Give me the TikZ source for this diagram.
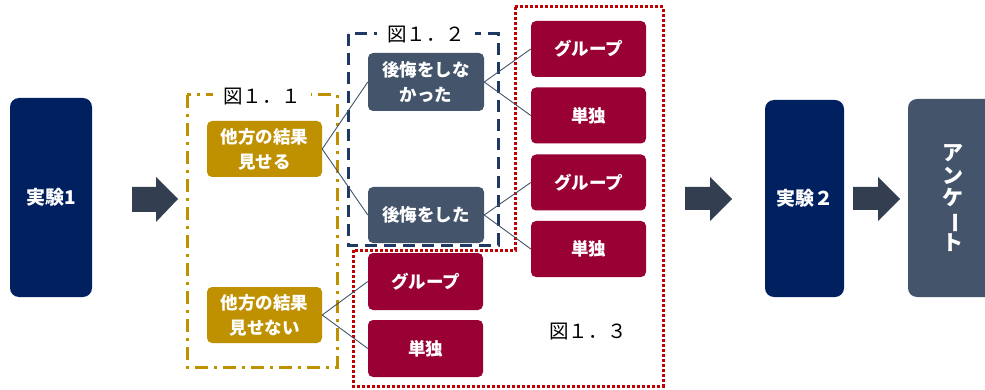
\documentclass[tikz,border=0pt]{standalone}
\usepackage{fontspec}
\setmainfont{Noto Sans CJK JP}
\definecolor{navybox}{RGB}{0,32,96}
\definecolor{goldc}{RGB}{191,144,0}
\definecolor{slate}{RGB}{68,84,106}
\definecolor{crimson}{RGB}{153,0,51}
\definecolor{arrowc}{RGB}{51,63,80}
\definecolor{navyframe}{RGB}{31,56,100}
\definecolor{redframe}{RGB}{192,0,0}
\tikzset{
  box/.style={rounded corners=5pt, inner sep=0pt, text=white, align=center,
    minimum width=115pt, minimum height=56pt, font=\fontsize{17.5}{25}\selectfont\bfseries},
  bigbox/.style={box, rounded corners=9pt, font=\fontsize{19}{20}\selectfont\bfseries},
  conn/.style={draw=slate, line width=0.9pt},
  blockarrow/.style={fill=arrowc},
  figlabel/.style={fill=white, inner sep=0pt, minimum width=98pt, minimum height=20pt,
    font=\fontsize{19.5}{20}\selectfont, text=black}
}
\begin{document}
\begin{tikzpicture}[x=1pt,y=-1pt]
\useasboundingbox[fill=white] (0,0) rectangle (985,390);

% frames
\draw[goldc, line width=3pt, dash pattern=on 13pt off 6pt on 3pt off 6pt] (187,95) rectangle (337,367);
\draw[navyframe, line width=3pt, dash pattern=on 12pt off 7pt] (348,34) rectangle (498,245);
\draw[redframe, line width=3pt, dash pattern=on 3pt off 2pt] (515,7) -- (663,7) -- (663,386) -- (353,386) -- (353,250) -- (515,250) -- cycle;

% labels
\node[figlabel] (f1) at (262,97) {図１．１};
\node[figlabel] (f2) at (426,35) {図１．２};
\node[figlabel, fill=none] (f3) at (588,332) {図１．３};

% big boxes
\node[bigbox, fill=navybox, minimum width=82pt, minimum height=199pt] (e1) at (51,197.5) {実験1};
\node[bigbox, fill=navybox, minimum width=79pt, minimum height=197pt] (e2) at (804.5,198.5) {実験２};
\node[bigbox, fill=slate, minimum width=87pt, minimum height=198pt] (q) at (951.5,198) {};
\node[text=white, inner sep=0pt, align=center, font=\fontsize{21}{22.5}\selectfont\bfseries] (qt) at (953,198)
  {ア\\ン\\ケ\\\rotatebox[origin=c]{-90}{ー}\\ト};

% gold boxes
\node[box, fill=goldc] (g1) at (264.5,149) {他方の結果\\見せる};
\node[box, fill=goldc] (g2) at (264.5,315) {他方の結果\\見せない};

% slate boxes
\node[box, fill=slate, minimum width=116pt, minimum height=58pt] (s1) at (426,82) {後悔をしな\\かった};
\node[box, fill=slate, minimum width=116pt] (s2) at (426,215) {後悔をした};

% crimson boxes
\node[box, fill=crimson] (r1) at (588.5,49) {グループ};
\node[box, fill=crimson] (r2) at (588.5,115.5) {単独};
\node[box, fill=crimson] (r3) at (588.5,182.5) {グループ};
\node[box, fill=crimson] (r4) at (588.5,249) {単独};
\node[box, fill=crimson, minimum height=57pt] (l1) at (425.5,281.5) {グループ};
\node[box, fill=crimson, minimum height=57pt] (l2) at (425.5,348.5) {単独};

% connectors
\draw[conn] (g1.east) -- (s1.west);
\draw[conn] (g1.east) -- (s2.west);
\draw[conn] (g2.east) -- (l1.west);
\draw[conn] (g2.east) -- (l2.west);
\draw[conn] (s1.east) -- (r1.west);
\draw[conn] (s1.east) -- (r2.west);
\draw[conn] (s2.east) -- (r3.west);
\draw[conn] (s2.east) -- (r4.west);

% block arrows
\fill[blockarrow] (132,187) -- (156,187) -- (156,177) -- (178,199) -- (156,222) -- (156,212) -- (132,212) -- cycle;
\fill[blockarrow] (685,187) -- (710,187) -- (710,177) -- (732,199) -- (710,221) -- (710,210) -- (685,210) -- cycle;
\fill[blockarrow] (853,187) -- (878,187) -- (878,177) -- (900,199) -- (878,221) -- (878,210) -- (853,210) -- cycle;
\end{tikzpicture}
\end{document}
